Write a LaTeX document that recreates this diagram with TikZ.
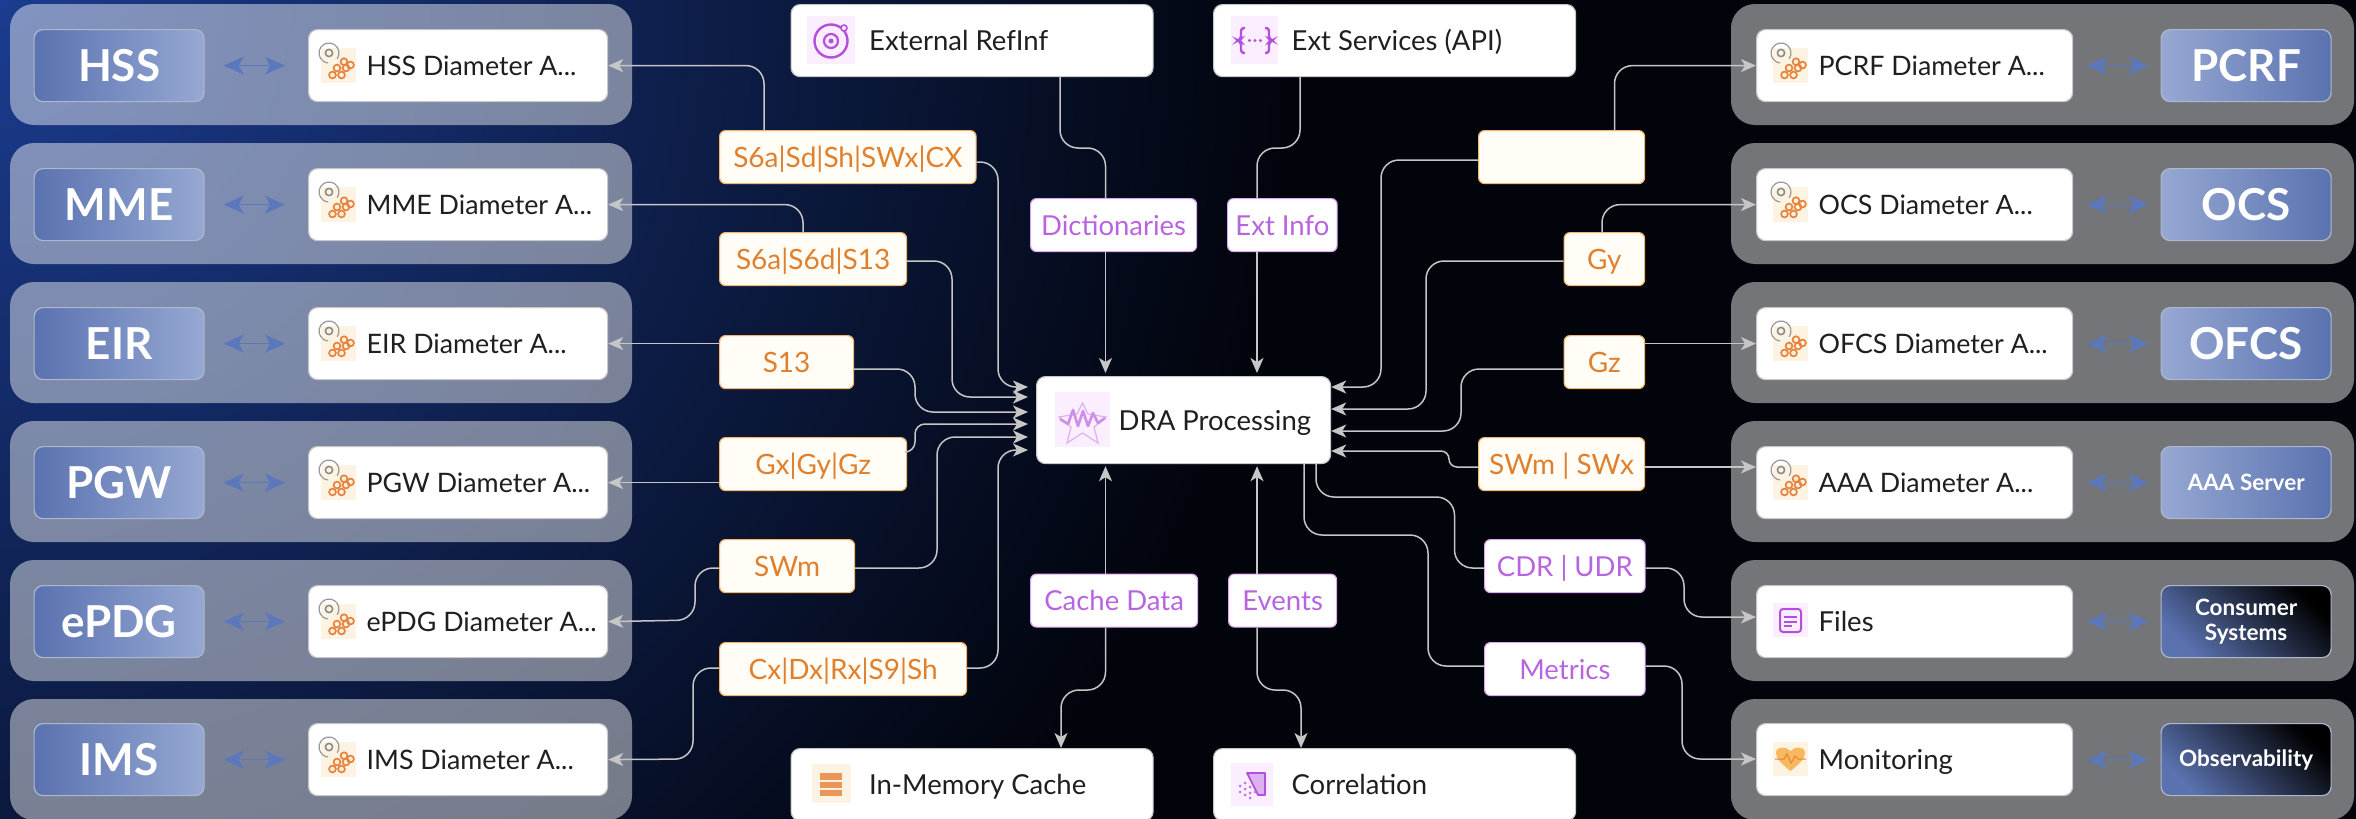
\documentclass[tikz,border=0pt]{standalone}
\usepackage{fontspec}
\setmainfont{Lato}
\usetikzlibrary{arrows.meta,calc}
\definecolor{bgA}{HTML}{1B3C90}
\definecolor{bgB}{HTML}{02040C}
\definecolor{sysL}{HTML}{5A72B0}
\definecolor{sysR}{HTML}{96A8D2}
\definecolor{sysE}{HTML}{AEB8CC}
\definecolor{wire}{HTML}{C6C6C6}
\definecolor{biblue}{HTML}{5C78BC}
\definecolor{orangeT}{HTML}{E0802E}
\definecolor{orangeB}{HTML}{F2B56A}
\definecolor{orangeF}{HTML}{FFFDF5}
\definecolor{purpT}{HTML}{B864E0}
\definecolor{purpB}{HTML}{DCA8F4}
\definecolor{purpF}{HTML}{FAEEFF}
\definecolor{oranF}{HTML}{FDF3E2}
\definecolor{iconO}{HTML}{E8823A}
\definecolor{iconP}{HTML}{B44FDC}
\definecolor{heartF}{HTML}{F7B85E}
\pgfdeclareradialshading{bgshade}{\pgfpointorigin}{color(0bp)=(bgA); color(25bp)=(bgB); color(50bp)=(bgB)}
\newcommand{\fsz}[1]{\fontsize{#1}{#1}\selectfont}
\newcommand{\tdots}{...}
\newcommand{\vstrut}{\rule[-7pt]{0pt}{34pt}}
\newcommand{\boxtxt}[3]{\makebox[#1pt][l]{\hspace{#2pt}\vstrut #3}}
\tikzset{
  grp/.style={fill=white,fill opacity=.45,rounded corners=24pt},
  wbox/.style={draw=white!78!black,line width=1.2pt,fill=white,rounded corners=9pt,inner sep=0pt,minimum height=72pt,anchor=north west,text=black!88,font=\fsz{27.5}},
  adbox/.style={wbox,font=\fsz{26.8}},
  sysbox/.style={draw=sysE,line width=1.2pt,rounded corners=9pt,inner sep=0pt,minimum width=170pt,minimum height=72pt,text=white,font=\bfseries\fsz{44},align=center,anchor=north west},
  sysleft/.style={sysbox,left color=sysL,right color=sysR},
  sysright/.style={sysbox,left color=sysR,right color=sysL},
  sysdark/.style={sysbox,left color=sysL,right color=black,shading angle=135,font=\bfseries\fsz{22.5}},
  olab/.style={draw=orangeB,line width=1.2pt,fill=orangeF,rounded corners=6pt,inner sep=0pt,minimum height=53pt,anchor=north west,text=orangeT,font=\fsz{28},execute at begin node=\vstrut},
  plab/.style={draw=purpB,line width=1.2pt,fill=white,rounded corners=6pt,inner sep=0pt,minimum height=53pt,anchor=north west,text=purpT,font=\fsz{27.5},execute at begin node=\vstrut},
  conn/.style={draw=wire,line width=1.5pt,rounded corners=18pt},
  arr/.style={conn,-{Stealth[length=15pt,width=13pt,inset=4pt]}},
  arrL/.style={arr,shorten >=8pt},
  biarr/.style={draw=biblue,line width=1.5pt,{Stealth[length=20pt,width=18pt,inset=5pt]}-{Stealth[length=20pt,width=18pt,inset=5pt]}},
  adicon/.pic={
    \fill[oranF] (-17.5,-17.5) rectangle (17.5,17.5);
    \draw[black!40,line width=1.2pt] (-9.5,-12) ++(-35:10pt) arc[start angle=-35,end angle=265,radius=10pt];
    \draw[black!45,line width=1.6pt] (-9.5,-12) circle[radius=3.6pt];
    \foreach \hx/\hy in {-6/10,3/10,-1.5/3,7.5/3,5.5/-3.3,12/0}{
      \draw[iconO,line width=1.7pt] (\hx,\hy) circle[radius=3.4pt];}
  },
}
\begin{document}
\begin{tikzpicture}[x=1pt,y=-1pt]
\useasboundingbox (0,0) rectangle (2356,819);
\clip (0,0) rectangle (2356,819);
\fill[bgB] (0,0) rectangle (2356,819);
\shade[shading=bgshade] (0,0) circle[radius=1300pt];

% group panels
\foreach \t in {4,143,282,421,560,699}{
  \fill[grp] (10,\t) rectangle (632,\t+121);
  \fill[grp] (1731,\t) rectangle (2354,\t+121);
}

% left rows
\foreach \n/\t/\sys/\ad in {1/29/HSS/HSS Diameter A\tdots,2/168/MME/MME Diameter A\tdots,3/307/EIR/EIR Diameter A\tdots,4/446/PGW/PGW Diameter A\tdots,5/585/ePDG/ePDG Diameter A\tdots,6/723/IMS/IMS Diameter A\tdots}{
  \node[sysleft] (s\n) at (33.5,\t) {\sys};
  \node[adbox,minimum width=299pt] (a\n) at (308,\t) {\boxtxt{299}{58}{\ad}};
  \pic at (338.5,\t+36) {adicon};
  \draw[biarr,shorten <=19pt,shorten >=23pt] (s\n.east) -- (a\n.west);
}
% right rows
\foreach \n/\t/\sys/\ad in {1/29/PCRF/PCRF Diameter A\tdots,2/168/OCS/OCS Diameter A\tdots,3/307/OFCS/OFCS Diameter A\tdots}{
  \node[sysright] (rs\n) at (2160.5,\t) {\sys};
  \node[adbox,minimum width=316pt] (ra\n) at (1756,\t) {\boxtxt{316}{62}{\ad}};
  \pic at (1790.5,\t+36) {adicon};
  \draw[biarr,shorten <=14pt,shorten >=12pt] (ra\n.east) -- (rs\n.west);
}
\node[sysright,font=\bfseries\fsz{22.5}] (rs4) at (2160.5,446) {AAA Server};
\node[adbox,minimum width=316pt] (ra4) at (1756,446) {\boxtxt{316}{62}{AAA Diameter A...}};
\pic at (1790.5,482) {adicon};
\node[sysdark] (rs5) at (2160.5,585) {Consumer\\[3pt]Systems};
\node[wbox,minimum width=316pt] (ra5) at (1756,585) {\boxtxt{316}{62}{Files}};
\node[sysdark] (rs6) at (2160.5,723) {Observability};
\node[wbox,minimum width=316pt] (ra6) at (1756,723) {\boxtxt{316}{62}{Monitoring}};
\foreach \n in {4,5,6}{
  \draw[biarr,shorten <=14pt,shorten >=12pt] (ra\n.east) -- (rs\n.west);
}
% files icon
\fill[purpF] (1773,603) rectangle (1808,637);
\draw[iconP,line width=2pt,rounded corners=3pt] (1780,609) rectangle (1801,632);
\draw[iconP,line width=1.5pt] (1784,617) -- (1797,617) (1784,622) -- (1797,622) (1784,626) -- (1792,626);
% monitoring icon
\fill[oranF] (1773,742) rectangle (1808,776);
\fill[heartF] (1790.5,771) .. controls (1782,764) and (1776,759) .. (1776,753) .. controls (1776,746) and (1786,746) .. (1790.5,751) .. controls (1795,746) and (1805,746) .. (1805,753) .. controls (1805,759) and (1799,764) .. (1790.5,771) -- cycle;
\draw[iconO,line width=1pt] (1775,759) -- (1784,759) -- (1787,754) -- (1791,763) -- (1795,756) -- (1798,759) -- (1806,759);

% top and bottom boxes
\node[wbox,minimum width=362pt] (ref) at (790.5,4) {\boxtxt{362}{78}{External RefInf}};
\node[wbox,minimum width=362pt] (ext) at (1213,4) {\boxtxt{362}{78}{Ext Services (API)}};
\node[wbox,minimum width=362pt] (mem) at (790.5,748) {\boxtxt{362}{78}{In-Memory Cache}};
\node[wbox,minimum width=362pt] (cor) at (1213,748) {\boxtxt{362}{78}{Correlation}};
\node[wbox,minimum width=294pt,minimum height=87pt] (dra) at (1036,376) {\boxtxt{294}{82}{DRA Processing}};
% RefInf icon
\fill[purpF] (806.5,16) rectangle (855,64);
\draw[iconP,line width=2.4pt] (831,41) circle[radius=16.5pt];
\draw[iconP,line width=2.2pt] (831,41) circle[radius=7pt];
\fill[iconP] (831,41) circle[radius=2.5pt];
\draw[iconP,fill=purpF,line width=1.5pt] (844,28) circle[radius=3pt];
% API icon
\fill[purpF] (1230.5,16) rectangle (1278,64);
\draw[iconP,line width=2.4pt,rounded corners=3pt] (1245,28) -- (1241,28) -- (1241,39) -- (1238,40.5) -- (1241,42) -- (1241,53) -- (1245,53);
\draw[iconP,line width=2.4pt,rounded corners=3pt] (1265,28) -- (1269,28) -- (1269,39) -- (1272,40.5) -- (1269,42) -- (1269,53) -- (1265,53);
\foreach \dx in {1249.5,1255,1260.5}{\fill[iconP] (\dx,40.5) circle[radius=1.7pt];}
% DRA icon
\fill[purpF] (1055,392) rectangle (1110,447);
\draw[iconP!45,line width=1.2pt] (1082.5,403) -- (1088,414) -- (1106,417) -- (1094,427) -- (1098,443) -- (1082.5,433) -- (1067,443) -- (1071,427) -- (1059,417) -- (1077,414) -- cycle;
\draw[iconP!65,line width=2.6pt,line join=round] (1060,419) -- (1068,424) -- (1073,410) -- (1078,426) -- (1083,411) -- (1088,426) -- (1093,413) -- (1098,423) -- (1105,418);
% cache icon
\fill[oranF] (812,764) rectangle (850.5,803);
\fill[iconO!85] (820,773) rectangle (842,780);
\fill[iconO!85] (820,781.5) rectangle (842,788);
\fill[iconO!85] (820,789.5) rectangle (842,796);
% correlation icon
\fill[purpF] (1230.5,763) rectangle (1273,806);
\draw[iconP,fill=iconP!45,line width=1.8pt,line join=round] (1247,773) -- (1265,773) -- (1265,795) -- (1258,795) -- cycle;
\foreach \dx/\dy in {1240/786,1245/783,1240/792,1245/789,1250/787,1245/795,1250/793,1255/792,1250/798}{
  \fill[iconP!80] (\dx,\dy) circle[radius=1.5pt];}

% interface labels
\node[olab,minimum width=256.5pt] (l1) at (719,130) {S6a|Sd|Sh|SWx|CX};
\node[olab,minimum width=187pt] (l2) at (719,232) {S6a|S6d|S13};
\node[olab,minimum width=134pt] (l3) at (719,335) {S13};
\node[olab,minimum width=187pt] (l4) at (719,437) {Gx|Gy|Gz};
\node[olab,minimum width=135pt] (l5) at (719,539) {SWm};
\node[olab,minimum width=247pt] (l6) at (719,642) {Cx|Dx|Rx|S9|Sh};
\node[olab,minimum width=166pt] (r1) at (1478,130) {};
\node[olab,minimum width=80.5pt] (r2) at (1563.5,232) {Gy};
\node[olab,minimum width=80.5pt] (r3) at (1563.5,335) {Gz};
\node[olab,minimum width=166pt] (r4) at (1478,437) {SWm | SWx};
\node[plab,minimum width=160.5pt] (r5) at (1484,539) {CDR | UDR};
\node[plab,minimum width=160.5pt] (r6) at (1484,642) {Metrics};
\node[plab,minimum width=166pt] (dict) at (1030,198) {Dictionaries};
\node[plab,minimum width=109.5pt] (info) at (1227,198) {Ext Info};
\node[plab,minimum width=167pt] (cdata) at (1030,573.5) {Cache Data};
\node[plab,minimum width=108pt] (evts) at (1228,573.5) {Events};

% left connectors
\draw[arr] (764,0 |- l1.north) |- (a1.east);
\draw[arrL] (l1.east |- 0,162) -- (998,162) -- (998,387) -- (dra.west |- 0,387);
\draw[arr] (803,0 |- l2.north) |- (a2.east);
\draw[arrL] (l2.east |- 0,261) -- (952,261) -- (952,397) -- (dra.west |- 0,397);
\draw[arr] (l3.west |- a3.east) -- (a3.east);
\draw[arrL] (l3.east |- 0,369) -- (915,369) -- (915,412) -- (dra.west |- 0,412);
\draw[arr] (l4.west |- a4.east) -- (a4.east);
\draw[arrL,rounded corners=10pt] (l4.east |- 0,452) -- (915,452) -- (915,424) -- (dra.west |- 0,424);
\draw[arr] (l5.west |- 0,568) -- (695,568) -- (695,620) -- (a5.east);
\draw[arrL] (l5.east |- 0,568) -- (937,568) -- (937,437) -- (dra.west |- 0,437);
\draw[arr] (l6.west |- 0,668) -- (693,668) -- (693,759) -- (a6.east);
\draw[arrL] (l6.east |- 0,668) -- (998,668) -- (998,450) -- (dra.west |- 0,450);
% top connectors
\draw[conn] (1060,0 |- ref.south) -- (1060,148) -- (1105.5,148) -- (1105.5,0 |- dict.north);
\draw[arr,shorten >=3pt] (1105.5,0 |- dict.south) -- (1105.5,0 |- dra.north);
\draw[conn] (1300,0 |- ext.south) -- (1300,148) -- (1257,148) -- (1257,0 |- info.north);
\draw[arr,shorten >=3pt] (1257,0 |- info.south) -- (1257,0 |- dra.north);
% right connectors
\draw[arr] (1614.5,0 |- r1.north) |- (ra1.west);
\draw[arr] (r1.west |- 0,160) -- (1381,160) -- (1381,387) -- (dra.east |- 0,387);
\draw[arr] (1602,0 |- r2.north) |- (ra2.west);
\draw[arr] (r2.west |- 0,261) -- (1426,261) -- (1426,409) -- (dra.east |- 0,409);
\draw[arr] (r3.east |- ra3.west) -- (ra3.west);
\draw[arr] (r3.west |- 0,369) -- (1461,369) -- (1461,431) -- (dra.east |- 0,431);
\draw[arr] (r4.east |- 0,467) -- (ra4.west |- 0,467);
\draw[arr,rounded corners=8pt] (r4.west |- 0,467) -- (1449,467) -- (1449,451) -- (dra.east |- 0,451);
% bottom connectors
\draw[conn] (1316,0 |- dra.south) -- (1316,497) -- (1454.5,497) -- (1454.5,568) -- (r5.west |- 0,568);
\draw[arr] (r5.east |- 0,568) -- (1684,568) -- (1684,617) -- (ra5.west |- 0,617);
\draw[conn] (1304,0 |- dra.south) -- (1304,535) -- (1428,535) -- (1428,666) -- (r6.west |- 0,666);
\draw[arr] (r6.east |- 0,666) -- (1682,666) -- (1682,759) -- (ra6.west |- 0,759);
\draw[arr,shorten >=2pt] (1105.5,0 |- cdata.north) -- (1105.5,0 |- dra.south);
\draw[arr] (1105.5,0 |- cdata.south) -- (1105.5,690) -- (1061,690) -- (1061,0 |- mem.north);
\draw[arr,shorten >=2pt] (1257,0 |- evts.north) -- (1257,0 |- dra.south);
\draw[arr] (1257,0 |- evts.south) -- (1257,690) -- (1301,690) -- (1301,0 |- cor.north);
\end{tikzpicture}
\end{document}
